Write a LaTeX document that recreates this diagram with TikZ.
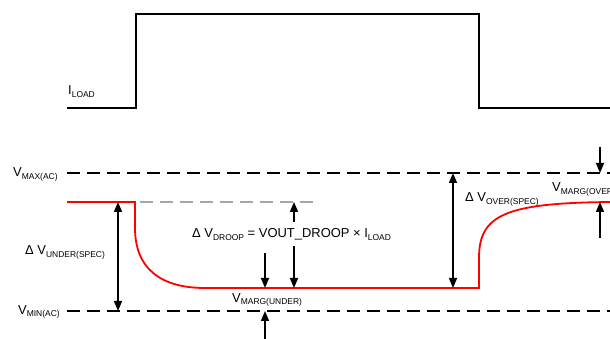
\documentclass[tikz,border=0pt]{standalone}
\usepackage{fontspec}
\setmainfont{Liberation Sans}
\usetikzlibrary{arrows.meta}
\newcommand{\sbs}[1]{\raisebox{-2.5pt}{\fontsize{8.5}{9}\selectfont #1}}
\begin{document}
\begin{tikzpicture}[>={Triangle[length=10bp,width=8bp]},line join=miter,
  lbl/.style={anchor=base west,inner sep=0pt,font=\fontsize{13}{15}\selectfont},
  wave/.style={line width=1.6bp},
  droop/.style={line width=1.8bp,red},
  lvl/.style={line width=1.6bp,dash pattern=on 13bp off 7bp},
  nom/.style={line width=1.4bp,gray!70,dash pattern=on 13bp off 7bp},
  dim/.style={line width=1.5bp}]
\useasboundingbox (0,0) rectangle (610bp,339bp);
%%
\node (iload) at (68bp,244bp) [lbl] {I\sbs{LOAD}};
  \node (vmax) at (13bp,162bp) [lbl] {V\sbs{MAX(AC)}};
  \node (vmin) at (18bp,25bp) [lbl] {V\sbs{MIN(AC)}};
  \node (under) at (25bp,84bp) [lbl] {Δ V\sbs{UNDER(SPEC)}};
  \node (dvdroop) at (192bp,101bp) [lbl] {Δ V\sbs{DROOP} = VOUT\_DROOP × I\sbs{LOAD}};
  \node (margu) at (232bp,37bp) [lbl] {V\sbs{MARG(UNDER)}};
  \node (over) at (465bp,137bp) [lbl] {Δ V\sbs{OVER(SPEC)}};
  \node (margo) at (552bp,147bp) [lbl] {V\sbs{MARG(OVER)}};
%
  \coordinate (maxl) at (67bp,166bp);
  \coordinate (maxr) at (610bp,166bp);
  \coordinate (minl) at (67bp,28bp);
  \coordinate (minr) at (610bp,28bp);
  \coordinate (noml) at (140bp,137bp);
  \coordinate (nomr) at (314bp,137bp);
  \coordinate (ut) at (118bp,137bp);
  \coordinate (ub) at (118bp,28bp);
  \coordinate (dt) at (294bp,137bp);
  \coordinate (dta) at (294bp,117bp);
  \coordinate (dba) at (294bp,93bp);
  \coordinate (db) at (294bp,51bp);
  \coordinate (mua) at (265bp,86bp);
  \coordinate (mu) at (265bp,51bp);
  \coordinate (mlb) at (265bp,0bp);
  \coordinate (ml) at (265bp,28bp);
  \coordinate (ot) at (453bp,166bp);
  \coordinate (ob) at (453bp,51bp);
  \coordinate (moa) at (600bp,192bp);
  \coordinate (mo) at (600bp,166bp);
  \coordinate (mob) at (600bp,101bp);
  \coordinate (mon) at (600bp,137bp);
%
  \draw [wave] (67bp,231bp) -- (136bp,231bp) -- (136bp,325bp) -- (479bp,325bp) -- (479bp,231bp) -- (610bp,231bp);
  \draw [lvl] (maxl) -- (maxr);
  \draw [lvl] (minl) -- (minr);
  \draw [nom] (noml) -- (nomr);
  \draw [droop] (67bp,137bp) -- (135bp,137bp) -- (135bp,111bp)
    .. controls (135bp,71bp) and (160bp,51bp) .. (205bp,51bp) -- (479bp,51bp) -- (479bp,81bp)
    .. controls (479bp,124bp) and (505bp,136bp) .. (610bp,137bp);
  \draw [<->,dim] (ut) -- (ub);
  \draw [->,dim] (dta) -- (dt);
  \draw [->,dim] (dba) -- (db);
  \draw [->,dim] (mua) -- (mu);
  \draw [->,dim] (mlb) -- (ml);
  \draw [<->,dim] (ot) -- (ob);
  \draw [->,dim] (moa) -- (mo);
  \draw [->,dim] (mob) -- (mon);
%
\end{tikzpicture}
\end{document}
